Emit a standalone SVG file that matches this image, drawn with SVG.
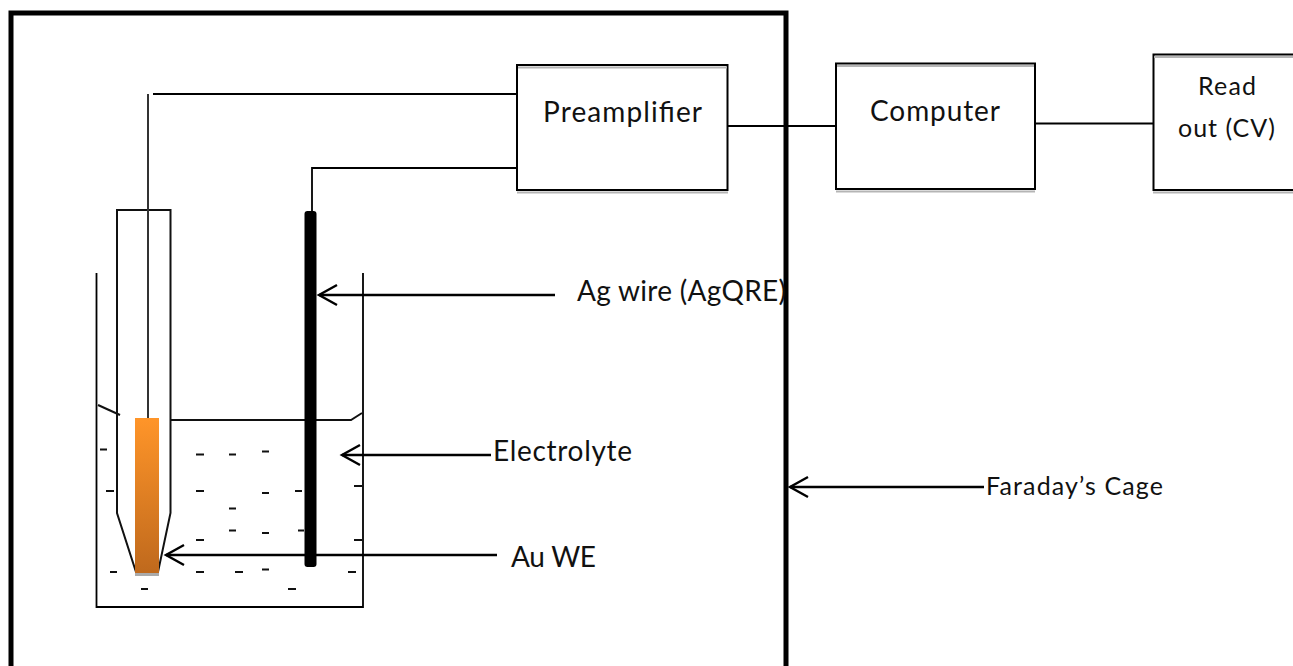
<svg xmlns="http://www.w3.org/2000/svg" width="1293" height="666" viewBox="0 0 1293 666">
<style>
text{font-family:"Lato","Carlito","Liberation Sans",sans-serif;fill:#111}
.l{font-size:28px}
.s{font-size:25px}
.b{fill:#fff;stroke:#000;stroke-width:2}
.sh{fill:none;stroke:#b5b5b5;stroke-width:2}
.w{fill:none;stroke:#000;stroke-width:1.8}
.t{fill:none;stroke:#111;stroke-width:2}
.a{fill:none;stroke:#000;stroke-width:2.4}
.d{stroke:#111;stroke-width:1.8}
</style>
<defs>
<linearGradient id="au" x1="0" y1="0" x2="0" y2="1"><stop offset="0" stop-color="#ff9529"/><stop offset="1" stop-color="#bf691d"/></linearGradient>
<marker id="ah" markerUnits="userSpaceOnUse" markerWidth="24" markerHeight="26" refX="20" refY="13" orient="auto"><path d="M2 3L20 13L2 23" fill="none" stroke="#000" stroke-width="2.400"/></marker>
</defs>
<g id="cage"><path d="M11 666V13H786V666" fill="none" stroke="#000" stroke-width="5"/></g>
<g id="connectors">
<path class="w" d="M153 94H517"/>
<path class="w" d="M312 211V168H517"/>
<path class="w" d="M728 126H836"/>
<path class="w" d="M1035 123.500H1153"/>
<path class="a" d="M555 295H319" marker-end="url(#ah)"/>
<path class="a" d="M491 455H342" marker-end="url(#ah)"/>
<path class="a" d="M497 555H166" marker-end="url(#ah)"/>
<path class="a" d="M984 487H790" marker-end="url(#ah)"/>
</g>
<g id="beaker">
<path class="w" d="M96.500 273V607H363V273"/>
<path class="t" d="M170 420H351L362 413"/>
<path class="t" d="M98 405L120 415"/>
<g class="dashes">
<path class="d" d="M100 449.500h7M196 454.500h8M229 454.500h7M262 451.500h7M106 491h8M196 491h8M262 493h7M295 491h7M354 486h8M229 508.500h7M229 530.500h7M262 533h7M298 530.500h6M196 540h8M354 540h8M110 572h7M196 572h8M235 572h8M262 569.500h7M348 572h8M141 589h7M288 589h8"/>
</g>
</g>
<g id="au-we">
<path class="t" d="M117 513V210H170.500V513L158 572H136L117 513Z"/>
<path d="M148 94V418" stroke="#333" stroke-width="2"/>
<rect x="135" y="573" width="24" height="3" fill="#aaa"/>
<rect x="135" y="418" width="24" height="155" fill="url(#au)"/>
</g>
<g id="ag-wire"><rect x="304.500" y="211" width="12" height="356" rx="3" fill="#000"/></g>
<g id="preamplifier"><rect class="b" x="517" y="65" width="210.500" height="125"/><path class="sh" d="M518 67.500H727M517 192.500H728"/><text class="l" x="543" y="122" textLength="159">Preamplifier</text></g>
<g id="computer"><rect class="b" x="836" y="63.500" width="199" height="125.500"/><path class="sh" d="M837 66H1034M836 191.500H1035"/><text class="l" x="870" y="120.500" textLength="130">Computer</text></g>
<g id="readout"><path class="b" d="M1293 54.500H1153.500V190H1293"/><path class="sh" d="M1154 57H1293M1153 192.500H1293"/><text class="s" x="1198" y="95" textLength="58">Read</text><text class="s" x="1178" y="137" textLength="97">out (CV)</text></g>
<g id="labels">
<text class="l" x="577" y="300.500" textLength="209">Ag wire (AgQRE)</text>
<text class="l" x="493" y="461" textLength="139">Electrolyte</text>
<text class="l" x="511" y="567" textLength="85">Au WE</text>
<text class="s" x="986" y="495" textLength="177">Faraday’s Cage</text>
</g>
</svg>
